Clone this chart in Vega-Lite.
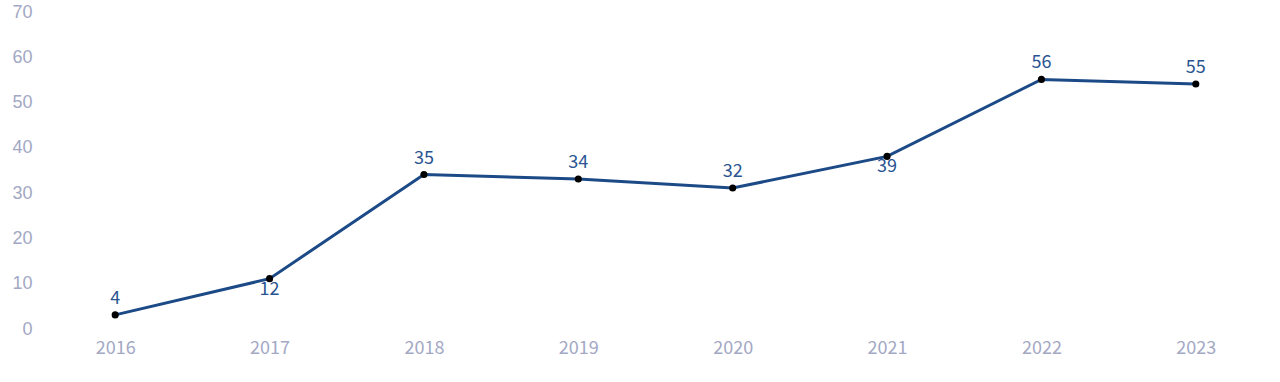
{
  "$schema": "https://vega.github.io/schema/vega-lite/v6.json",
  "width": 1235,
  "height": 317,
  "autosize": {"type": "none"},
  "padding": {"left": 38, "top": 16, "right": 7, "bottom": 49},
  "background": "#ffffff",
  "config": {"view": {"stroke": null}},
  "data": {
    "values": [
      {"year": "2016", "value": 4},
      {"year": "2017", "value": 12},
      {"year": "2018", "value": 35},
      {"year": "2019", "value": 34},
      {"year": "2020", "value": 32},
      {"year": "2021", "value": 39},
      {"year": "2022", "value": 56},
      {"year": "2023", "value": 55}
    ]
  },
  "encoding": {
    "x": {
      "field": "year",
      "type": "ordinal",
      "scale": {"type": "point", "padding": 0.5},
      "axis": {
        "title": null,
        "domain": false,
        "ticks": false,
        "grid": false,
        "labelAngle": 0,
        "labelFont": "Noto Sans CJK SC",
        "labelFontSize": 18,
        "labelColor": "#a3a8c4",
        "labelPadding": 6
      }
    },
    "y": {
      "field": "value",
      "type": "quantitative",
      "scale": {"domain": [0, 70], "nice": false},
      "axis": {
        "title": null,
        "domain": false,
        "ticks": false,
        "grid": false,
        "values": [0, 10, 20, 30, 40, 50, 60, 70],
        "labelFont": "Liberation Sans",
        "labelFontSize": 18,
        "labelColor": "#a3a8c4",
        "labelBaseline": "alphabetic",
        "labelOffset": 1,
        "labelPadding": 6
      }
    }
  },
  "layer": [
    {"mark": {"type": "line", "color": "#1c4a87", "strokeWidth": 3}},
    {"mark": {"type": "point", "filled": true, "color": "#000000", "opacity": 1, "size": 50}},
    {
      "transform": [{"filter": {"field": "year", "oneOf": ["2016", "2018", "2019", "2020", "2022", "2023"]}}],
      "mark": {"type": "text", "font": "Noto Sans CJK SC", "fontSize": 18, "color": "#2a5592", "baseline": "alphabetic", "dy": -11},
      "encoding": {"text": {"field": "value", "type": "quantitative"}}
    },
    {
      "transform": [{"filter": {"field": "year", "oneOf": ["2017", "2021"]}}],
      "mark": {"type": "text", "font": "Noto Sans CJK SC", "fontSize": 18, "color": "#2a5592", "baseline": "alphabetic", "dy": 16},
      "encoding": {"text": {"field": "value", "type": "quantitative"}}
    }
  ]
}
